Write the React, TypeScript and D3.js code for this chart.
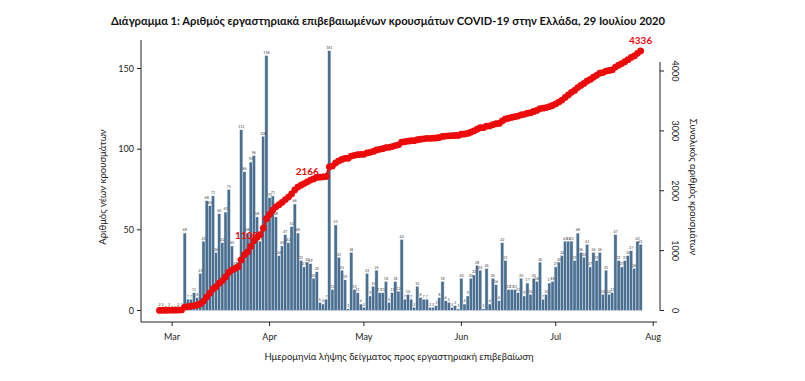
import React from "react";
import * as d3 from "d3";

// ---------- data ----------
const firstSampleDate = "2020-02-26";

const dailyCases: number[] = [
  // Feb 26 - Mar 4
  2, 2, 0, 2, 0, 0, 2, 2,
  // Mar 5 - Mar 15
  48, 7, 7, 11, 8, 23, 43, 68, 65, 71, 36,
  // Mar 16 - Mar 22
  60, 42, 61, 75, 40, 27, 30,
  // Mar 23 - Mar 30
  112, 86, 48, 92, 96, 58, 43, 108,
  // Mar 31
  158,
  // Apr 1 - Apr 19
  70, 71, 58, 34, 40, 47, 42, 52, 66, 48, 31, 27, 30, 29, 20, 24, 5, 4, 7,
  // Apr 20
  161,
  // Apr 21 - Apr 27
  13, 53, 33, 25, 19, 1, 36,
  // Apr 28 - May 20
  13, 11, 4, 2, 23, 9, 15, 25, 11, 11, 18, 5, 11, 18, 12, 44, 7, 10, 7, 2, 15, 8, 7,
  // May 21 - May 31
  7, 2, 2, 3, 8, 18, 6, 5, 2, 3, 1,
  // Jun 1 - Jun 14
  20, 4, 9, 20, 22, 28, 25, 1, 26, 4, 20, 16, 6, 42,
  // Jun 15 - Jun 26
  31, 13, 13, 13, 11, 20, 9, 17, 10, 20, 18, 30,
  // Jun 27 - Jul 3
  7, 10, 17, 18, 27, 30, 34,
  // Jul 4 - Jul 8
  43, 43, 43, 31, 48,
  // Jul 9 - Jul 19
  36, 33, 41, 27, 36, 31, 36, 10, 25, 10, 11,
  // Jul 20
  47,
  // Jul 21 - Jul 28
  31, 27, 31, 34, 37, 26, 43, 41,
];

const monthTickDates = ["2020-03-01", "2020-04-01", "2020-05-01", "2020-06-01", "2020-07-01", "2020-08-01"];
const monthTickLabels = ["Mar", "Apr", "May", "Jun", "Jul", "Aug"];
const leftTicks = [0, 50, 100, 150];
const rightTicks = [0, 1000, 2000, 3000, 4000];

const cumulativeLabelDates = ["2020-03-26", "2020-04-13", "2020-07-28"];
const cumulativeLabelTexts = ["1100", "2166", "4336"];

const titleText =
  "Διάγραμμα 1: Αριθμός εργαστηριακά επιβεβαιωμένων κρουσμάτων COVID-19 στην Ελλάδα, 29 Ιουλίου 2020";
const leftTitle = "Αριθμός νέων κρουσμάτων";
const rightTitle = "Συνολικός αριθμός κρουσμάτων";
const xTitle = "Ημερομηνία λήψης δείγματος προς εργαστηριακή επιβεβαίωση";

// ---------- helpers ----------
const DAY = 864e5;
const parse = (s: string) => new Date(s + "T00:00:00Z");
const FONT = "Lato, 'Open Sans', sans-serif";
const BAR = "#4b6f90";
const RED = "#ec0a0a";

export default function App() {
  const W = 805;
  const H = 381;

  const x = d3
    .scaleUtc()
    .domain([parse(monthTickDates[0]), parse(monthTickDates[monthTickDates.length - 1])])
    .range([172.1, 653.2]);
  const yL = d3.scaleLinear().domain([0, 150]).range([310.5, 68.5]);
  const yR = d3.scaleLinear().domain([0, 4000]).range([310.5, 71]);

  const t0 = parse(firstSampleDate).getTime();
  const dates = dailyCases.map((_, i) => new Date(t0 + i * DAY));
  const cumulative = Array.from(d3.cumsum(dailyCases));
  const bw = x(new Date(t0 + DAY)) - x(new Date(t0));

  const line = d3
    .line<number>()
    .x((_, i) => x(dates[i]))
    .y((c) => yR(c));

  const axisLeftX = 141;
  const axisRightX = 660;
  const axisBottomY = 322;
  const plotTop = 40;

  // small placement nudges for the three cumulative labels (dx, dy)
  const labelNudge = [
    [-4, -7.5],
    [0, -6.5],
    [0, -6.5],
  ];

  return (
    <svg
      width={W}
      height={H}
      viewBox={`0 0 ${W} ${H}`}
      style={{ position: "absolute", left: 0, top: 0, background: "#ffffff" }}
      fontFamily={FONT}
    >
      <rect x={0} y={0} width={W} height={H} fill="#ffffff" />

      {/* title */}
      <text x={388} y={24.5} textAnchor="middle" fontSize={11.2} fontWeight={700} fill="#111">
        {titleText}
      </text>

      {/* bars */}
      <g>
        {dailyCases.map((v, i) => (
          <rect
            key={i}
            x={x(dates[i]) - bw / 2}
            y={yL(v)}
            width={bw}
            height={Math.max(0, yL(0) - yL(v))}
            fill={BAR}
            stroke="#e3e9ef"
            strokeWidth={0.45}
          />
        ))}
      </g>

      {/* tiny value labels on bars */}
      <g fontSize={3.6} fill="#444" textAnchor="middle">
        {dailyCases.map((v, i) => (
          <text key={i} x={x(dates[i])} y={yL(v) - 1.6}>
            {v}
          </text>
        ))}
      </g>

      {/* cumulative labels */}
      <g fontSize={10} fontWeight={700} fill={RED} textAnchor="middle">
        {cumulativeLabelDates.map((d, k) => {
          const i = Math.round((parse(d).getTime() - t0) / DAY);
          return (
            <text
              key={k}
              x={x(dates[i]) + labelNudge[k][0]}
              y={yR(cumulative[i]) + labelNudge[k][1]}
            >
              {cumulativeLabelTexts[k]}
            </text>
          );
        })}
      </g>

      {/* cumulative line */}
      <path d={line(cumulative) || ""} fill="none" stroke={RED} strokeWidth={2.5} />
      <g fill={RED}>
        {cumulative.map((c, i) => (
          <circle key={i} cx={x(dates[i])} cy={yR(c)} r={3.4} />
        ))}
      </g>

      {/* left axis */}
      <g stroke="#222" strokeWidth={1}>
        <line x1={axisLeftX} x2={axisLeftX} y1={plotTop} y2={axisBottomY} />
        {leftTicks.map((t) => (
          <line key={t} x1={axisLeftX - 4} x2={axisLeftX} y1={yL(t)} y2={yL(t)} />
        ))}
      </g>
      <g fontSize={9} fill="#222" textAnchor="end">
        {leftTicks.map((t) => (
          <text key={t} x={axisLeftX - 7} y={yL(t) + 3}>
            {t}
          </text>
        ))}
      </g>
      <text
        transform={`translate(106,187) rotate(-90)`}
        textAnchor="middle"
        fontSize={9.5}
        fill="#222"
      >
        {leftTitle}
      </text>

      {/* right axis */}
      <g stroke="#222" strokeWidth={1}>
        <line x1={axisRightX} x2={axisRightX} y1={62} y2={yR(0)} />
        {rightTicks.map((t) => (
          <line key={t} x1={axisRightX} x2={axisRightX + 4} y1={yR(t)} y2={yR(t)} />
        ))}
      </g>
      <g fontSize={9} fill="#222" textAnchor="middle">
        {rightTicks.map((t) => (
          <text key={t} transform={`translate(${axisRightX + 12},${yR(t)}) rotate(90)`}>
            {t}
          </text>
        ))}
      </g>
      <text
        transform={`translate(690,187) rotate(90)`}
        textAnchor="middle"
        fontSize={9.5}
        fill="#222"
      >
        {rightTitle}
      </text>

      {/* bottom axis */}
      <g stroke="#222" strokeWidth={1}>
        <line x1={axisLeftX} x2={657} y1={axisBottomY} y2={axisBottomY} />
        {monthTickDates.map((d) => (
          <line key={d} x1={x(parse(d))} x2={x(parse(d))} y1={axisBottomY} y2={axisBottomY + 4} />
        ))}
      </g>
      <g fontSize={9} fill="#222" textAnchor="middle">
        {monthTickDates.map((d, k) => (
          <text key={d} x={x(parse(d))} y={340}>
            {monthTickLabels[k]}
          </text>
        ))}
      </g>
      <text x={399} y={360} textAnchor="middle" fontSize={9.5} fill="#222">
        {xTitle}
      </text>
    </svg>
  );
}
